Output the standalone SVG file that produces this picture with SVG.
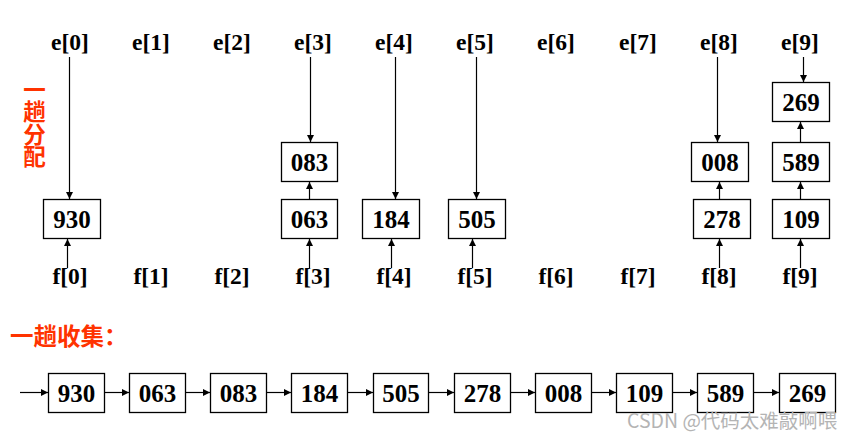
<svg xmlns="http://www.w3.org/2000/svg" width="854" height="438" viewBox="0 0 854 438">
<style>
.lbl{font-family:"Liberation Serif","Times New Roman",serif;font-weight:bold;font-size:23.5px;fill:#000;text-anchor:middle}
.num{font-family:"Liberation Serif","Times New Roman",serif;font-weight:bold;font-size:25px;fill:#000;text-anchor:middle}
.box{fill:#fff;stroke:#000;stroke-width:1.3}
.red{font-family:"Noto Sans CJK SC","Noto Sans",sans-serif;font-weight:bold;fill:#ff3300}
.vert{writing-mode:vertical-rl;text-orientation:upright}
.wm{font-family:"Noto Sans CJK SC","Noto Sans",sans-serif;font-size:19.5px;fill:#b4b4b4}
.ln{stroke:#000;stroke-width:1.2;fill:none;marker-end:url(#ah)}
</style>
<defs>
<marker id="ah" viewBox="0 0 10 10" refX="10" refY="5" markerWidth="7" markerHeight="7" markerUnits="userSpaceOnUse" orient="auto">
<path d="M0,0 L10,5 L0,10 z" fill="#000"/>
</marker>
</defs>
<rect width="854" height="438" fill="#fff"/>

<g id="e-labels">
<text class="lbl" x="70" y="50">e[0]</text>
<text class="lbl" x="151" y="50">e[1]</text>
<text class="lbl" x="232" y="50">e[2]</text>
<text class="lbl" x="313" y="50">e[3]</text>
<text class="lbl" x="394" y="50">e[4]</text>
<text class="lbl" x="475" y="50">e[5]</text>
<text class="lbl" x="556" y="50">e[6]</text>
<text class="lbl" x="638" y="50">e[7]</text>
<text class="lbl" x="719" y="50">e[8]</text>
<text class="lbl" x="800" y="50">e[9]</text>
</g>
<g id="f-labels">
<text class="lbl" x="70" y="284">f[0]</text>
<text class="lbl" x="151" y="284">f[1]</text>
<text class="lbl" x="232" y="284">f[2]</text>
<text class="lbl" x="313" y="284">f[3]</text>
<text class="lbl" x="394" y="284">f[4]</text>
<text class="lbl" x="475" y="284">f[5]</text>
<text class="lbl" x="556" y="284">f[6]</text>
<text class="lbl" x="638" y="284">f[7]</text>
<text class="lbl" x="719" y="284">f[8]</text>
<text class="lbl" x="800" y="284">f[9]</text>
</g>

<g id="title-distribute">
<text class="red vert" font-size="22.5" x="34.5" y="78">一趟分配</text>
</g>

<g id="d930"><rect class="box" x="43.5" y="199.5" width="57" height="39"/><text class="num" x="72" y="227.5">930</text></g>
<g id="d083"><rect class="box" x="281.5" y="142.5" width="56" height="39"/><text class="num" x="309.5" y="170.5">083</text></g>
<g id="d063"><rect class="box" x="281.5" y="199.5" width="56" height="39"/><text class="num" x="309.5" y="227.5">063</text></g>
<g id="d184"><rect class="box" x="362.5" y="199.5" width="57" height="39"/><text class="num" x="391" y="227.5">184</text></g>
<g id="d505"><rect class="box" x="448.5" y="199.5" width="57" height="39"/><text class="num" x="477" y="227.5">505</text></g>
<g id="d008"><rect class="box" x="691.5" y="142.5" width="57" height="39"/><text class="num" x="720" y="170.5">008</text></g>
<g id="d278"><rect class="box" x="693.5" y="199.5" width="57" height="39"/><text class="num" x="722" y="227.5">278</text></g>
<g id="d269"><rect class="box" x="772.5" y="82.5" width="57" height="39"/><text class="num" x="801" y="110.5">269</text></g>
<g id="d589"><rect class="box" x="772.5" y="142.5" width="57" height="39"/><text class="num" x="801" y="170.5">589</text></g>
<g id="d109"><rect class="box" x="772.5" y="199.5" width="57" height="39"/><text class="num" x="801" y="227.5">109</text></g>

<g id="connectors-distribute">
<line class="ln" x1="69.5" y1="57" x2="69.5" y2="199"/>
<line class="ln" x1="67.5" y1="268" x2="67.5" y2="239"/>
<line class="ln" x1="310.5" y1="57" x2="310.5" y2="142"/>
<line class="ln" x1="309.5" y1="199" x2="309.5" y2="182"/>
<line class="ln" x1="309.5" y1="268" x2="309.5" y2="239"/>
<line class="ln" x1="395.5" y1="57" x2="395.5" y2="199"/>
<line class="ln" x1="391.5" y1="268" x2="391.5" y2="239"/>
<line class="ln" x1="476.5" y1="57" x2="476.5" y2="199"/>
<line class="ln" x1="472.5" y1="268" x2="472.5" y2="239"/>
<line class="ln" x1="717.5" y1="57" x2="717.5" y2="142"/>
<line class="ln" x1="719.5" y1="199" x2="719.5" y2="182"/>
<line class="ln" x1="719.5" y1="268" x2="719.5" y2="239"/>
<line class="ln" x1="803.5" y1="57" x2="803.5" y2="82"/>
<line class="ln" x1="800.5" y1="142" x2="800.5" y2="122"/>
<line class="ln" x1="800.5" y1="199" x2="800.5" y2="182"/>
<line class="ln" x1="800.5" y1="268" x2="800.5" y2="239"/>
</g>

<g id="title-collect">
<text class="red" font-size="23.5" x="10" y="345">一趟收集：</text>
</g>

<g id="c930"><rect class="box" x="48.5" y="373.5" width="56" height="39"/><text class="num" x="76.5" y="401.5">930</text></g>
<g id="c063"><rect class="box" x="129.5" y="373.5" width="56" height="39"/><text class="num" x="157.5" y="401.5">063</text></g>
<g id="c083"><rect class="box" x="210.5" y="373.5" width="56" height="39"/><text class="num" x="238.5" y="401.5">083</text></g>
<g id="c184"><rect class="box" x="291.5" y="373.5" width="56" height="39"/><text class="num" x="319.5" y="401.5">184</text></g>
<g id="c505"><rect class="box" x="373.5" y="373.5" width="55" height="39"/><text class="num" x="401" y="401.5">505</text></g>
<g id="c278"><rect class="box" x="454.5" y="373.5" width="56" height="39"/><text class="num" x="482.5" y="401.5">278</text></g>
<g id="c008"><rect class="box" x="535.5" y="373.5" width="56" height="39"/><text class="num" x="563.5" y="401.5">008</text></g>
<g id="c109"><rect class="box" x="616.5" y="373.5" width="56" height="39"/><text class="num" x="644.5" y="401.5">109</text></g>
<g id="c589"><rect class="box" x="697.5" y="373.5" width="56" height="39"/><text class="num" x="725.5" y="401.5">589</text></g>
<g id="c269"><rect class="box" x="779.5" y="373.5" width="56" height="39"/><text class="num" x="807.5" y="401.5">269</text></g>

<g id="connectors-collect">
<line class="ln" x1="20" y1="392.5" x2="48" y2="392.5"/>
<line class="ln" x1="105" y1="392.5" x2="129" y2="392.5"/>
<line class="ln" x1="186" y1="392.5" x2="210" y2="392.5"/>
<line class="ln" x1="267" y1="392.5" x2="291" y2="392.5"/>
<line class="ln" x1="348" y1="392.5" x2="373" y2="392.5"/>
<line class="ln" x1="429" y1="392.5" x2="454" y2="392.5"/>
<line class="ln" x1="511" y1="392.5" x2="535" y2="392.5"/>
<line class="ln" x1="592" y1="392.5" x2="616" y2="392.5"/>
<line class="ln" x1="673" y1="392.5" x2="697" y2="392.5"/>
<line class="ln" x1="754" y1="392.5" x2="779" y2="392.5"/>
</g>

<text class="wm" x="627" y="428">CSDN @代码太难敲啊喂</text>
</svg>
